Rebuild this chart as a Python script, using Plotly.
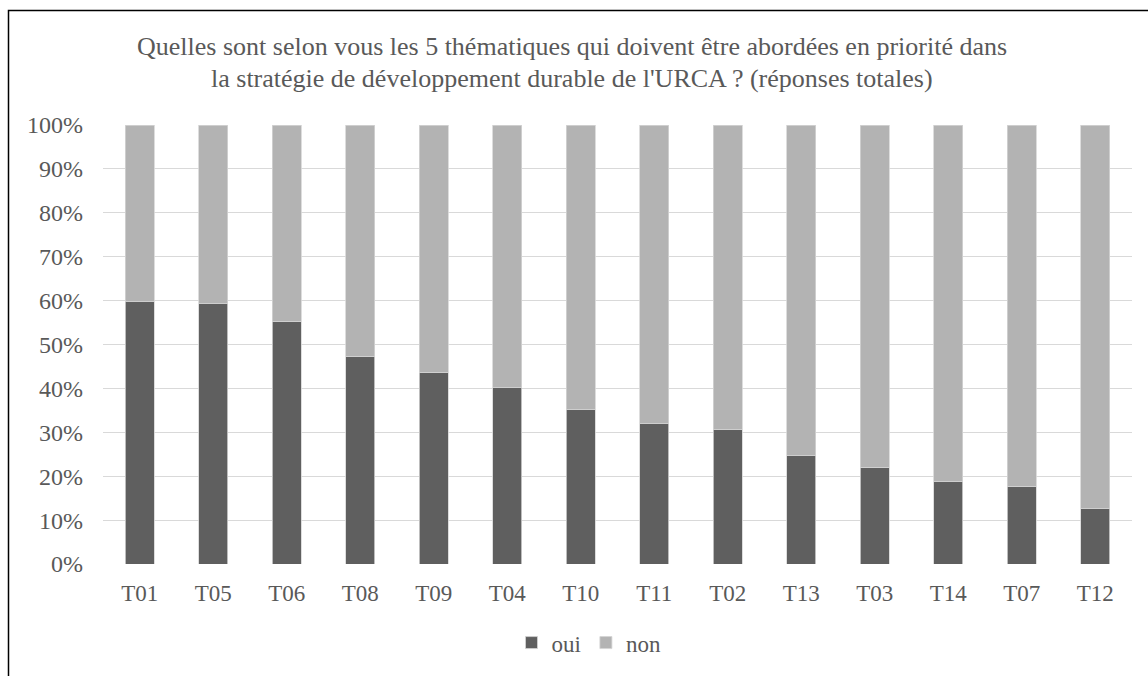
import plotly.graph_objects as go

# Thematic codes, ordered by share of "oui"
themes = ["T01", "T05", "T06", "T08", "T09", "T04", "T10",
          "T11", "T02", "T13", "T03", "T14", "T07", "T12"]

# Share of respondents (%) per theme
oui = [59.7, 59.3, 55.3, 47.3, 43.7, 40.1, 35.1, 31.9, 30.6, 24.7, 22.0, 18.7, 17.7, 12.6]
non = [40.3, 40.7, 44.7, 52.7, 56.3, 59.9, 64.9, 68.1, 69.4, 75.3, 78.0, 81.3, 82.3, 87.4]

y_ticks = [0, 10, 20, 30, 40, 50, 60, 70, 80, 90, 100]
y_tick_text = [f"{v}%" for v in y_ticks]

title_lines = [
    "Quelles sont selon vous les 5 thématiques qui doivent être abordées en priorité dans",
    "la stratégie de développement durable de l'URCA ? (réponses totales)",
]

FONT = "Liberation Serif, Times New Roman, serif"
TEXT = "#595959"
W, H = 1148, 676
ML, MR, MT, MB = 103, 16, 125, 110
PW, PH = W - ML - MR, H - MT - MB


def px_x(x):
    return (x - ML) / PW


def px_y(y):
    return (H - MB - y) / PH


fig = go.Figure()
fig.add_trace(go.Bar(
    name="oui", x=themes, y=oui,
    marker=dict(color="#5f5f5f", line=dict(color="#d4d4d4", width=0.8)),
))
fig.add_trace(go.Bar(
    name="non", x=themes, y=non,
    marker=dict(color="#b3b3b3", line=dict(color="#d4d4d4", width=0.8)),
))

for i, line in enumerate(title_lines):
    fig.add_annotation(
        text=line, xref="paper", yref="paper",
        x=px_x(572), y=px_y(46 + 32 * i),
        xanchor="center", yanchor="middle", showarrow=False,
        font=dict(family=FONT, size=26, color=TEXT),
    )

# Chart-area frame (top and left edges visible)
fig.add_shape(
    type="rect", xref="paper", yref="paper",
    x0=px_x(8.5), x1=px_x(1200), y0=px_y(720), y1=px_y(10),
    line=dict(color="black", width=1.5), fillcolor="rgba(0,0,0,0)",
    layer="above",
)

fig.update_layout(
    width=W, height=H,
    margin=dict(l=ML, r=MR, t=MT, b=MB),
    barmode="stack", bargap=0.6,
    paper_bgcolor="white", plot_bgcolor="white",
    font=dict(family=FONT, size=23, color=TEXT),
    showlegend=True,
    legend=dict(
        orientation="h", x=px_x(589), y=px_y(645),
        xanchor="center", yanchor="middle",
        font=dict(family=FONT, size=23, color=TEXT),
        itemwidth=30, traceorder="normal",
    ),
    xaxis=dict(
        showgrid=False, zeroline=False, showline=False, ticks="",
        tickfont=dict(family=FONT, size=23, color=TEXT),
        ticklabelstandoff=13,
    ),
    yaxis=dict(
        range=[0, 100], tickvals=y_ticks, ticktext=y_tick_text,
        showgrid=True, gridcolor="#d9d9d9", gridwidth=1.3,
        zeroline=False, showline=False, ticks="",
        tickfont=dict(family=FONT, size=24, color=TEXT),
        ticklabelstandoff=19,
    ),
)

fig.write_html("out.html")
